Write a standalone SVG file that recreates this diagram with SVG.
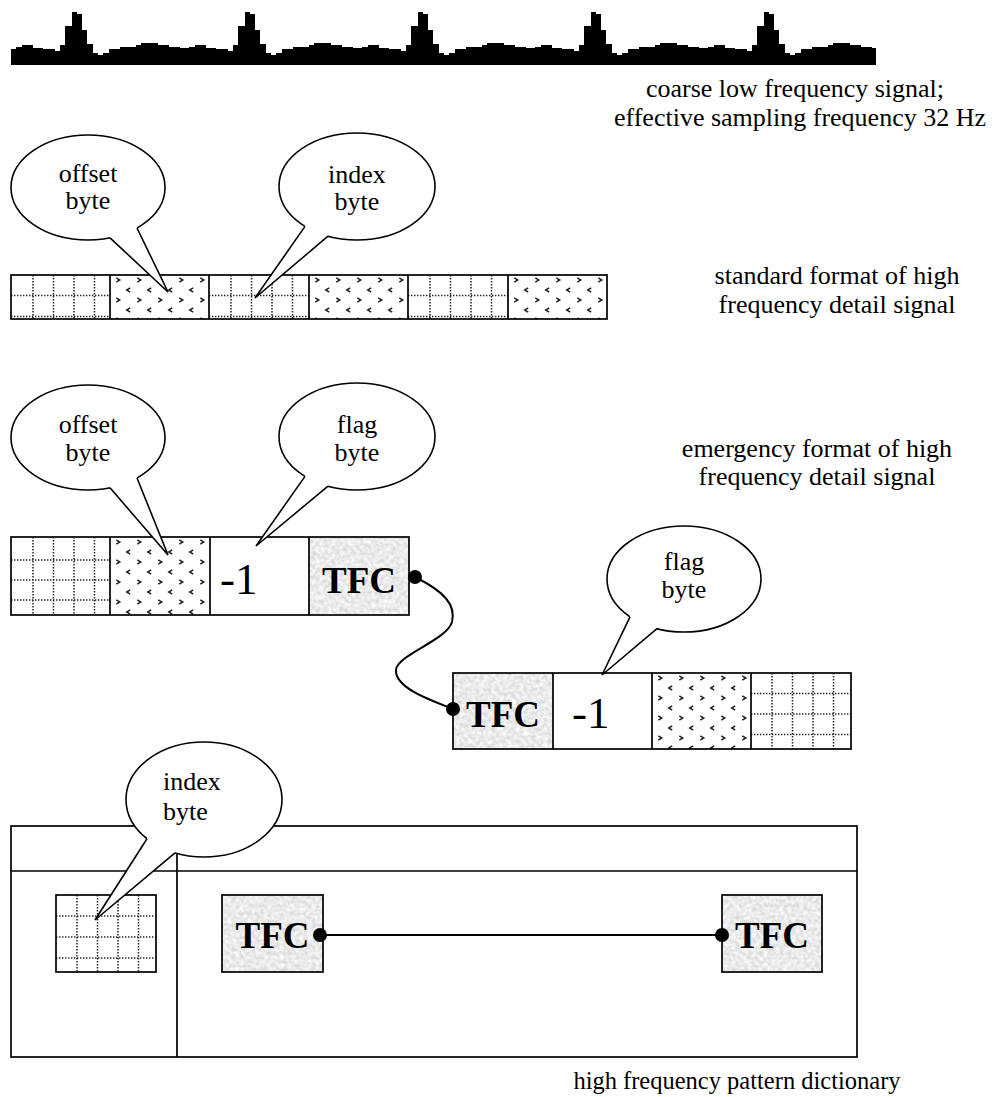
<svg xmlns="http://www.w3.org/2000/svg" width="994" height="1097" viewBox="0 0 994 1097">
<style>
text{font-family:"Liberation Serif","Times New Roman",serif;fill:#000}
.t{font-size:26px}
.c{text-anchor:middle}
.b{font-size:37px;font-weight:bold;text-anchor:middle}
.m{font-size:45px}
.box{fill:none;stroke:#000;stroke-width:1.7}
.bub{fill:#fff;stroke:#000;stroke-width:1.6}
.tf{fill:#fff;stroke:none}
.tl{fill:none;stroke:#000;stroke-width:1.6;stroke-linejoin:miter}
.dot{stroke:#222;stroke-width:1.5;stroke-dasharray:1.4 1.6;fill:none}
.con{fill:none;stroke:#000;stroke-width:2}
.knob{fill:#000}
</style>
<defs>
<pattern id="chev" patternUnits="userSpaceOnUse" width="21" height="20">
<polyline points="1.3,0.8 4.8,3 1.3,5.2" fill="none" stroke="#222" stroke-width="1.5"/>
<polyline points="15.2,10.8 11.7,13 15.2,15.2" fill="none" stroke="#222" stroke-width="1.5"/>
</pattern>
<filter id="tex" x="0" y="0" width="1" height="1" color-interpolation-filters="sRGB">
<feTurbulence type="fractalNoise" baseFrequency="0.25" numOctaves="3" seed="7"/>
<feColorMatrix type="matrix" values="0.24 0 0 0 0.8  0.24 0 0 0 0.8  0.24 0 0 0 0.8  0 0 0 0 1"/>
</filter>
</defs>
<rect width="994" height="1097" fill="#fff"/>

<g id="signal">
<path fill="#000" d="M11,65V49h5V47h6V45h11V48h10V49h12V51h5V45h5V26h7V12h5V14h5V30h5V44h6V53h5V55h5V53h6V49h11V47h16V45h5V43h17V45h11V47h11V48h4
h5V47h6V45h11V48h10V49h12V51h5V45h5V26h7V12h5V14h5V30h5V44h6V53h5V55h5V53h6V49h11V47h16V45h5V43h17V45h11V47h11V48h4
h5V47h6V45h11V48h10V49h12V51h5V45h5V26h7V12h5V14h5V30h5V44h6V53h5V55h5V53h6V49h11V47h16V45h5V43h17V45h11V47h11V48h4
h5V47h6V45h11V48h10V49h12V51h5V45h5V26h7V12h5V14h5V30h5V44h6V53h5V55h5V53h6V49h11V47h16V45h5V43h17V45h11V47h11V48h4
h5V47h6V45h11V48h10V49h12V51h5V45h5V26h7V12h5V14h5V30h5V44h6V53h5V55h5V53h6V49h11V47h16V45h5V43h17V45h11V47h11V48h4V65Z"/>
<text class="t c" x="795" y="97">coarse low frequency signal;</text>
<text class="t c" x="800" y="126">effective sampling frequency 32 Hz</text>
</g>

<g id="standard-format">
<g transform="translate(115,277)"><rect x="-5" y="-2" width="99" height="44" fill="url(#chev)"/></g>
<g transform="translate(314,277)"><rect x="-5" y="-2" width="99" height="44" fill="url(#chev)"/></g>
<g transform="translate(513,277)"><rect x="-5" y="-2" width="99" height="44" fill="url(#chev)"/></g>
<path class="dot" d="M33,275V319M53.5,275V319M74,275V319M94.5,275V319M11,295.5H110M11,316.5H110"/>
<path class="dot" d="M231,275V319M251.5,275V319M272,275V319M292.5,275V319M209,295.5H309M209,316.5H309"/>
<path class="dot" d="M430,275V319M450.5,275V319M471,275V319M491.5,275V319M408,295.5H508M408,316.5H508"/>
<rect class="box" x="11" y="275" width="596" height="44"/>
<path class="box" d="M110,275V319M209,275V319M309,275V319M408,275V319M508,275V319"/>
<text class="t c" x="837" y="284">standard format of high</text>
<text class="t c" x="837" y="313">frequency detail signal</text>
</g>

<g id="bubble-offset-1">
<ellipse class="bub" cx="88" cy="187.5" rx="77" ry="52.5"/>
<polygon class="tf" points="110,237.8 168,292 137,228 137,224 110,234"/>
<polyline class="tl" points="110,237.8 168,292 137,228"/>
<text class="t c" x="88" y="182">offset</text>
<text class="t c" x="88" y="209">byte</text>
</g>

<g id="bubble-index-1">
<ellipse class="bub" cx="357" cy="186.5" rx="78" ry="53.5"/>
<polygon class="tf" points="305,226.4 255,298 328,236.2 328,232 305,222"/>
<polyline class="tl" points="305,226.4 255,298 328,236.2"/>
<text class="t c" x="357" y="183">index</text>
<text class="t c" x="357" y="210">byte</text>
</g>

<g id="emergency-format-1">
<g transform="translate(115,539)"><rect x="-5" y="-2" width="100" height="78" fill="url(#chev)"/></g>
<path class="dot" d="M33,537V615M53.5,537V615M74,537V615M94.5,537V615M11,560H110M11,580H110M11,600H110"/>
<rect x="309" y="537" width="100" height="78" filter="url(#tex)"/>
<rect class="box" x="11" y="537" width="398" height="78"/>
<path class="box" d="M110,537V615M210,537V615M309,537V615"/>
<text class="m" x="220" y="594">-1</text>
<text class="b" x="359" y="593">TFC</text>
<text class="t c" x="817" y="457">emergency format of high</text>
<text class="t c" x="817" y="485">frequency detail signal</text>
</g>

<g id="bubble-offset-2">
<ellipse class="bub" cx="88" cy="437.5" rx="77" ry="52.5"/>
<polygon class="tf" points="110,487.8 168,555 137,478 137,474 110,484"/>
<polyline class="tl" points="110,487.8 168,555 137,478"/>
<text class="t c" x="88" y="433">offset</text>
<text class="t c" x="88" y="461">byte</text>
</g>

<g id="bubble-flag-1">
<ellipse class="bub" cx="357" cy="436.5" rx="78" ry="53.5"/>
<polygon class="tf" points="305,476.4 256,546 328,486.2 328,482 305,472"/>
<polyline class="tl" points="305,476.4 256,546 328,486.2"/>
<text class="t c" x="357" y="433">flag</text>
<text class="t c" x="357" y="461">byte</text>
</g>

<g id="emergency-format-2">
<rect x="453" y="673" width="100" height="76" filter="url(#tex)"/>
<g transform="translate(657,675)"><rect x="-5" y="-2" width="99" height="76" fill="url(#chev)"/></g>
<path class="dot" d="M772,673V749M792.5,673V749M813,673V749M833.5,673V749M751,693.5H851M751,714H851M751,734.5H851"/>
<rect class="box" x="453" y="673" width="398" height="76"/>
<path class="box" d="M553,673V749M652,673V749M751,673V749"/>
<text class="b" x="503" y="727">TFC</text>
<text class="m" x="572" y="728">-1</text>
</g>

<g id="bubble-flag-2">
<ellipse class="bub" cx="684" cy="579" rx="77" ry="53"/>
<polygon class="tf" points="630,616.8 602,675 657,628.6 657,624 630,612"/>
<polyline class="tl" points="630,616.8 602,675 657,628.6"/>
<text class="t c" x="684" y="570">flag</text>
<text class="t c" x="684" y="598">byte</text>
</g>

<g id="dictionary">
<rect class="box" x="11" y="826" width="846" height="231"/>
<path class="box" d="M11,871H857M177,826V1057"/>
<path class="dot" d="M77,895V972M97.5,895V972M118,895V972M138.5,895V972M56,916H156M56,937H156M56,958H156"/>
<rect class="box" x="56" y="895" width="100" height="77"/>
<rect x="222" y="895" width="101" height="77" filter="url(#tex)"/>
<rect class="box" x="222" y="895" width="101" height="77"/>
<rect x="722" y="895" width="100" height="77" filter="url(#tex)"/>
<rect class="box" x="722" y="895" width="100" height="77"/>
<text class="b" x="272.5" y="948">TFC</text>
<text class="b" x="772" y="948">TFC</text>
<text class="c" x="737" y="1089" font-size="24.5">high frequency pattern dictionary</text>
</g>

<g id="bubble-index-2">
<ellipse class="bub" cx="204" cy="799.5" rx="78" ry="57.5"/>
<polygon class="tf" points="147,838.8 95,920 175,852.9 175,848 147,834"/>
<polyline class="tl" points="147,838.8 95,920 175,852.9"/>
<text class="t" x="163" y="790">index</text>
<text class="t" x="163" y="820">byte</text>
</g>

<g id="connectors">
<path class="con" d="M415,577C445,592 456,605 452,622C447,640 397,655 396,670C395,688 430,700 453,709"/>
<path class="con" d="M320,935H722"/>
<circle class="knob" cx="415" cy="577" r="7"/>
<circle class="knob" cx="453" cy="709" r="7"/>
<circle class="knob" cx="320" cy="935" r="7"/>
<circle class="knob" cx="722" cy="935" r="7"/>
</g>
</svg>
